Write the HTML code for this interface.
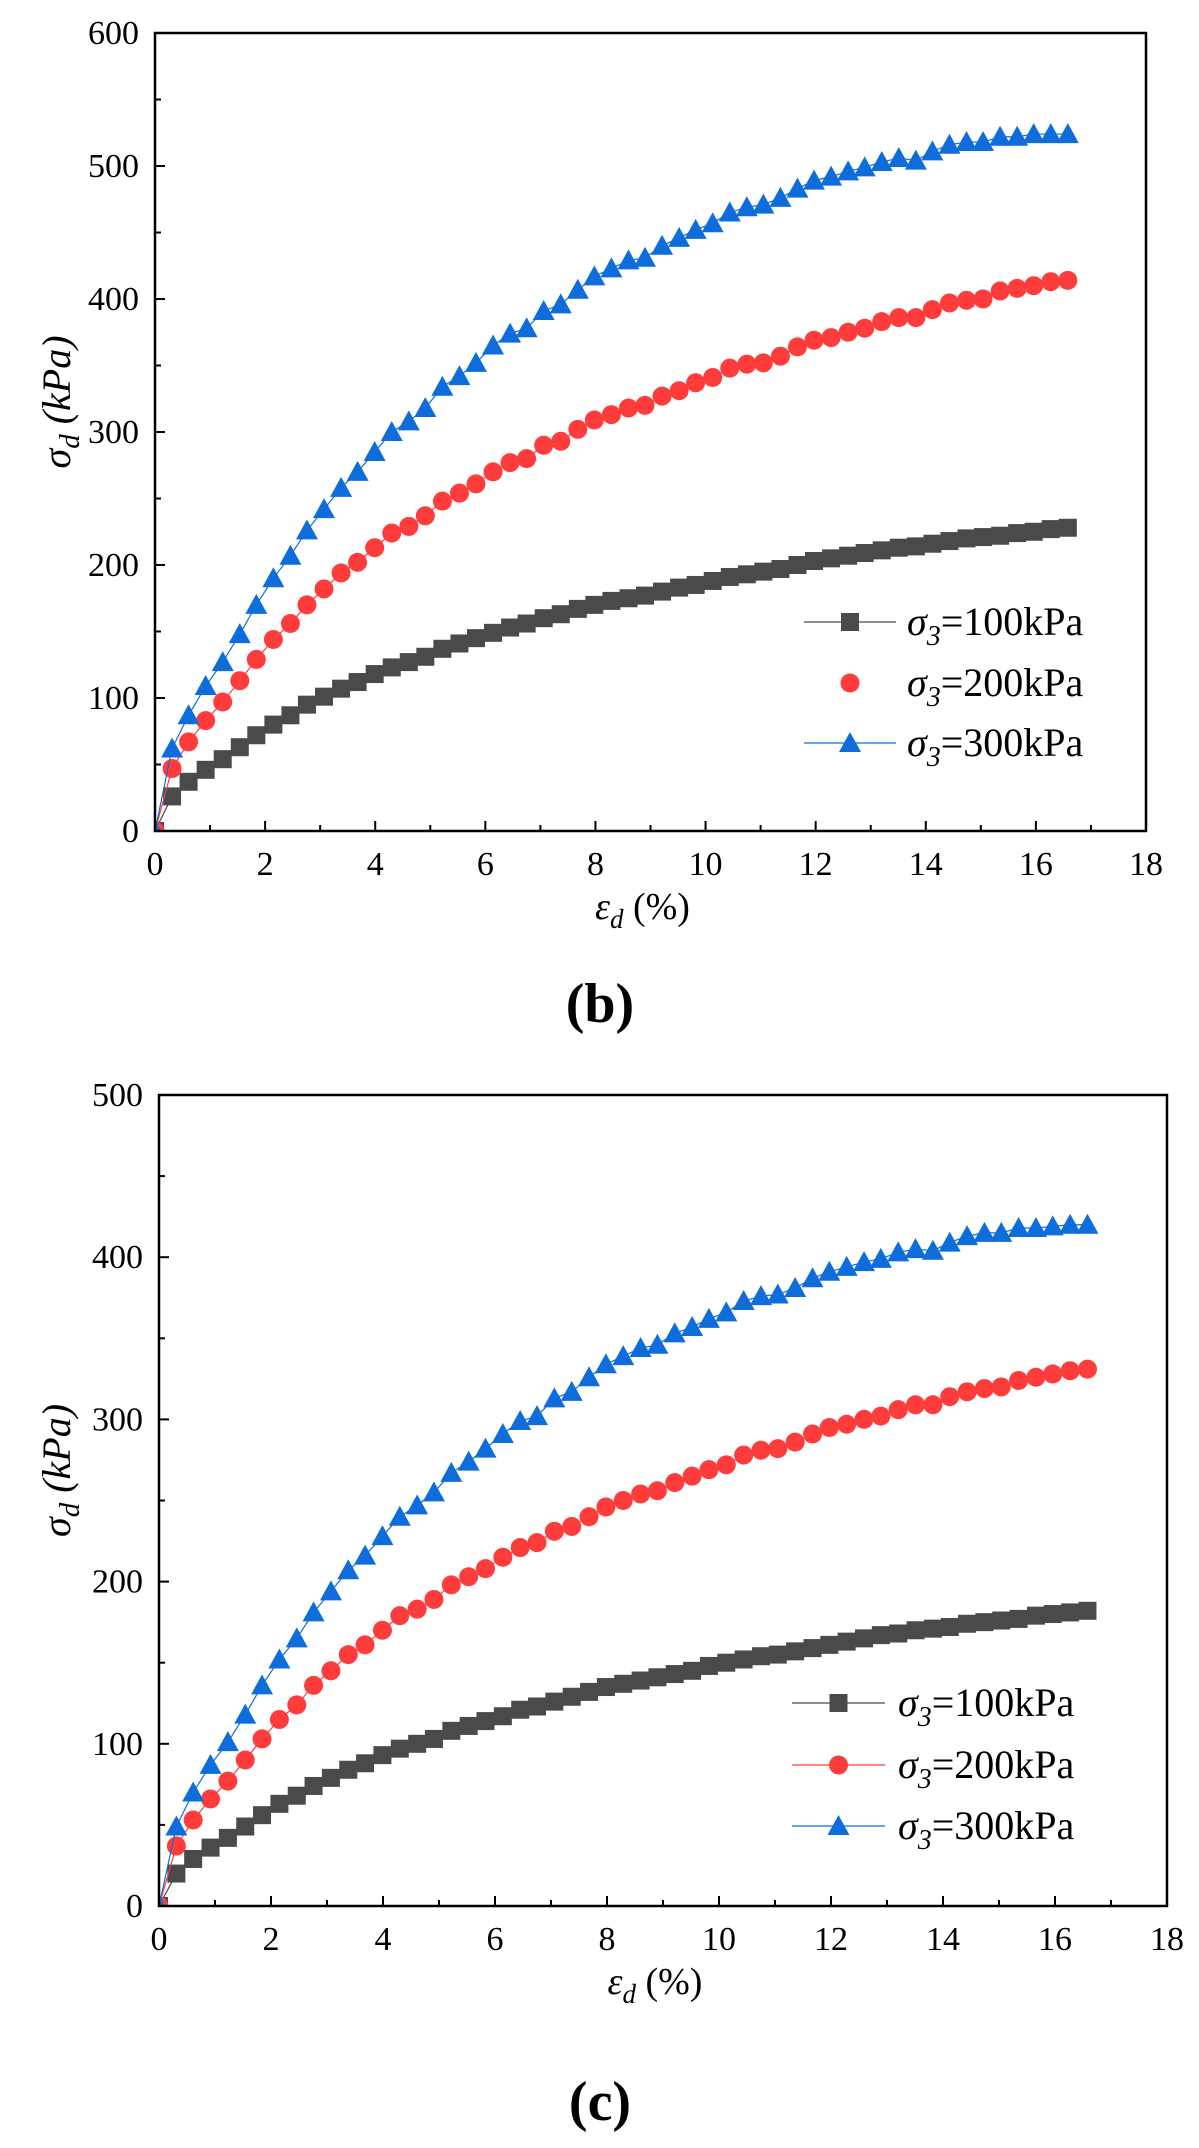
<!DOCTYPE html>
<html><head><meta charset="utf-8"><style>
html,body{margin:0;padding:0;background:#fff;}
svg, svg text{font-family:"Liberation Serif","Times New Roman",serif;}
</style></head><body>
<svg id="svg" width="1199" height="2143" viewBox="0 0 1199 2143" xmlns="http://www.w3.org/2000/svg" font-family="Liberation Serif, serif"></svg>
<script>
const strain = [0,0.31,0.61,0.92,1.23,1.54,1.84,2.15,2.46,2.76,3.07,3.38,3.68,3.99,4.30,4.61,4.91,5.22,5.53,5.83,6.14,6.45,6.75,7.06,7.37,7.68,7.98,8.29,8.60,8.90,9.21,9.52,9.82,10.13,10.44,10.75,11.05,11.36,11.67,11.97,12.28,12.59,12.89,13.20,13.51,13.82,14.12,14.43,14.74,15.04,15.35,15.66,15.96,16.27,16.58];
const b100 = [0,26,37,46,54,63,72,80,87,95,101,107,112,118,123,127,131,137,141,145,149,153,156,160,163,167,170,173,175,177,180,183,185,188,191,193,195,197,200,203,205,207,209,211,213,214,216,218,220,221,222,224,225,227,228];
const b200 = [0,47,67,83,97,113,129,144,156,170,182,194,202,213,224,229,237,248,254,261,270,277,280,290,293,302,309,313,318,320,327,331,337,341,348,351,352,357,364,369,371,375,378,383,386,386,392,397,399,400,406,408,410,413,414];
const b300 = [0,62,87,109,127,148,170,190,207,226,242,258,270,285,300,308,318,334,342,352,365,374,378,391,396,407,417,423,429,431,440,446,452,457,465,469,471,476,483,489,492,496,499,503,506,504,511,516,518,518,522,522,524,524,524];
const c100 = [0,20,29,36,42,49,56,63,68,74,79,84,88,93,97,100,103,108,111,114,117,121,123,126,129,132,135,137,139,141,143,145,148,150,152,154,155,157,159,161,163,165,167,168,170,171,172,174,175,176,177,179,180,181,182];
const c200 = [0,37,53,66,77,90,103,115,124,136,145,155,161,170,179,183,189,198,203,208,215,221,224,231,234,240,246,250,254,256,261,265,269,272,278,281,282,286,291,295,297,300,302,306,309,309,314,317,319,320,324,326,328,330,331];
const c300 = [0,49,70,87,101,118,136,152,165,181,194,207,216,228,240,247,255,267,274,282,291,299,302,313,317,326,334,339,344,346,353,357,362,366,373,376,377,381,387,391,394,397,399,403,405,404,409,413,415,415,418,418,419,420,420];
const xTicks = [0,2,4,6,8,10,12,14,16,18];
const yTicksB = [0,100,200,300,400,500,600];
const yTicksC = [0,100,200,300,400,500];
const legendLabels = ["100kPa","200kPa","300kPa"];

const NS="http://www.w3.org/2000/svg";
const svg=document.getElementById('svg');
const FONT='"Liberation Serif","Times New Roman",serif';
function mk(tag,attrs,parent){const e=document.createElementNS(NS,tag);for(const k in attrs)e.setAttribute(k,attrs[k]);if(tag==='text')e.style.fontFamily=FONT;(parent||svg).appendChild(e);return e;}

const COLORS=["#4a4a4a","#ff3c3c","#0f6ddb"];

function marker(g,type,x,y,color){
  let m;
  if(type===0){m=mk('rect',{x:x-9,y:y-9,width:18,height:18,fill:color},g);}
  else if(type===1){m=mk('circle',{cx:x,cy:y,r:9.5,fill:color},g);}
  else {m=mk('polygon',{points:`${x},${y-11} ${x+11},${y+9} ${x-11},${y+9}`,fill:color},g);}
  return m;
}

function chart(cfg){
  const {L,T,R,B,ymax,yTicks,series,id,legend,label,labelY}=cfg;
  const g=mk('g',{});
  
  
  const sx=v=>L+(v/18)*(R-L);
  const sy=v=>B-(v/ymax)*(B-T);
  const cp=mk('clipPath',{id:'clip-'+id},g);
  mk('rect',{x:L,y:T,width:R-L,height:B-T},cp);
  for(let v=0;v<=18;v+=1){
    const len=(v%2===0)?10:6;
    const t=mk('line',{x1:sx(v),x2:sx(v),y1:B,y2:B-len,stroke:'#000','stroke-width':2},g);
    
    
  }
  xTicks.forEach(v=>{
    const t=mk('text',{x:sx(v),y:B+44,'font-size':34,'text-anchor':'middle'},g);
    t.textContent=v;
    
    
  });
  for(let v=0;v<=ymax;v+=50){
    const len=(v%100===0)?10:6;
    const t=mk('line',{x1:L,x2:L+len,y1:sy(v),y2:sy(v),stroke:'#000','stroke-width':2},g);
    
    
  }
  yTicks.forEach(v=>{
    const t=mk('text',{x:L-16,y:sy(v)+11,'font-size':34,'text-anchor':'end'},g);
    t.textContent=v;
    
    
  });
  series.forEach((s,i)=>{
    const sg=mk('g',{'clip-path':'url(#clip-'+id+')'},g);
    
    
    const pts=strain.map((x,j)=>sx(x)+','+sy(s[j])).join(' ');
    mk('polyline',{points:pts,fill:'none',stroke:COLORS[i],'stroke-width':1.2},sg);
    strain.forEach((x,j)=>{
      const m=marker(sg,i,sx(x),sy(s[j]),COLORS[i]);
      
      
    });
  });
  const f=mk('rect',{x:L,y:T,width:R-L,height:B-T,fill:'none',stroke:'#000','stroke-width':2.5},g);
  
  
  const xt=mk('text',{x:(L+R)/2-8,y:B+88,'font-size':38,'text-anchor':'middle'},g);
  xt.innerHTML='<tspan font-style="italic">ε</tspan><tspan font-style="italic" font-size="27" dy="9">d</tspan><tspan dy="-9"> (%)</tspan>';
  
  
  const yc=(T+B)/2;
  const yt=mk('text',{x:0,y:0,'font-size':40,'text-anchor':'middle',transform:`translate(70,${yc-30}) rotate(-90)`},g);
  yt.innerHTML='<tspan font-style="italic">σ</tspan><tspan font-style="italic" font-size="29" dy="9">d</tspan><tspan dy="-9" font-style="italic"> (kPa)</tspan>';
  
  
  legend.rows.forEach((ry,i)=>{
    const lg=mk('g',{},g);
    
    
    if(legend.lines[i]) mk('line',{x1:legend.x1,x2:legend.x2,y1:ry,y2:ry,stroke:COLORS[i],'stroke-width':1.3},lg);
    marker(lg,i,(legend.x1+legend.x2)/2,ry,COLORS[i]);
    const tx=mk('text',{x:legend.tx,y:ry+13,'font-size':40},lg);
    tx.innerHTML='<tspan font-style="italic">σ</tspan><tspan font-style="italic" font-size="28" dy="10">3</tspan><tspan dy="-10">='+legendLabels[i]+'</tspan>';
  });
  const lb=mk('text',{x:600,y:labelY,'font-size':56,'font-weight':'bold','text-anchor':'middle'},g);
  lb.textContent=label;
  
  
}

chart({id:'b',L:155,T:33,R:1146,B:831,ymax:600,yTicks:yTicksB,series:[b100,b200,b300],
  legend:{x1:804,x2:896,tx:907,rows:[622,683,743],lines:[true,false,true]},label:'(b)',labelY:1022});
chart({id:'c',L:159,T:1095,R:1167,B:1906,ymax:500,yTicks:yTicksC,series:[c100,c200,c300],
  legend:{x1:792,x2:885,tx:898,rows:[1703,1765,1826],lines:[true,true,true]},label:'(c)',labelY:2120});
</script>
</body></html>
